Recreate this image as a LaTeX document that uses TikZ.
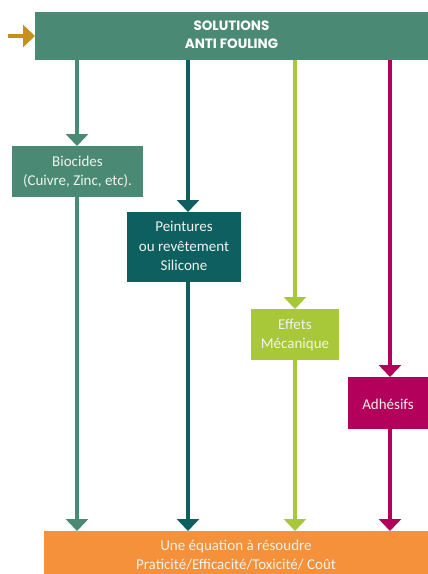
\documentclass[tikz,border=0pt]{standalone}
\usepackage{fontspec}
\setmainfont{Carlito}
\newfontfamily\titlefont{Poppins}
\usetikzlibrary{arrows.meta}
\definecolor{cA}{HTML}{4A8A74}
\definecolor{cB}{HTML}{0D5F60}
\definecolor{cC}{HTML}{A8C83A}
\definecolor{cD}{HTML}{B3005A}
\definecolor{cO}{HTML}{F4913A}
\definecolor{cIn}{HTML}{C8901A}
\definecolor{txt}{HTML}{F2F2EC}
\tikzset{
  box/.style={draw=none, inner sep=0pt, align=center, text=txt, font=\fontsize{15}{19.5}\selectfont},
  conn/.style={line width=4pt, -{Triangle[length=12pt,width=22pt]}},
}
\begin{document}
\begin{tikzpicture}[x=1pt,y=-1pt]
\useasboundingbox (0,0) rectangle (428,574);
\fill[white] (0,0) rectangle (428,574);
% boxes
\fill[cA] (35,12) rectangle (428,60);
\node[box, text=white, font=\titlefont\bfseries\fontsize{13.5}{18}\selectfont] (top) at (231.5,35) {SOLUTIONS\\ANTI FOULING};
\coordinate (topL) at (35,36);
\fill[cA] (12,146) rectangle (143,197);
\node[box] (bio) at (77.5,172) {Biocides\\(Cuivre, Zinc, etc).};
\fill[cB] (127,212) rectangle (241,282);
\node[box] (pein) at (184,246) {Peintures\\ou revêtement\\Silicone};
\fill[cC] (251,309) rectangle (339,360);
\node[box] (eff) at (295,335) {Effets\\Mécanique};
\fill[cD] (348,377) rectangle (428,429);
\node[box] (adh) at (388,404) {Adhésifs};
\fill[cO] (44,531) rectangle (428,574);
\node[box] (bot) at (236,555) {Une équation à résoudre\\Praticité/Efficacité/Toxicité/ Coût};
% anchor coordinates on box edges
\coordinate (t1) at (77,60);   \coordinate (b1n) at (77,146);  \coordinate (b1s) at (77,197);  \coordinate (o1) at (77,531);
\coordinate (t2) at (188,60);  \coordinate (b2n) at (188,212); \coordinate (b2s) at (188,282); \coordinate (o2) at (188,531);
\coordinate (t3) at (295,60);  \coordinate (b3n) at (295,309); \coordinate (b3s) at (295,360); \coordinate (o3) at (295,531);
\coordinate (t4) at (390,60);  \coordinate (b4n) at (390,377); \coordinate (b4s) at (390,429); \coordinate (o4) at (390,531);
\coordinate (in) at (8,36);
% connectors
\draw[conn, cIn] (in) -- (topL);
\draw[conn, cA] (t1) -- (b1n);
\draw[conn, cA] (b1s) -- (o1);
\draw[conn, cB] (t2) -- (b2n);
\draw[conn, cB] (b2s) -- (o2);
\draw[conn, cC] (t3) -- (b3n);
\draw[conn, cC] (b3s) -- (o3);
\draw[conn, cD] (t4) -- (b4n);
\draw[conn, cD] (b4s) -- (o4);
\end{tikzpicture}
\end{document}
